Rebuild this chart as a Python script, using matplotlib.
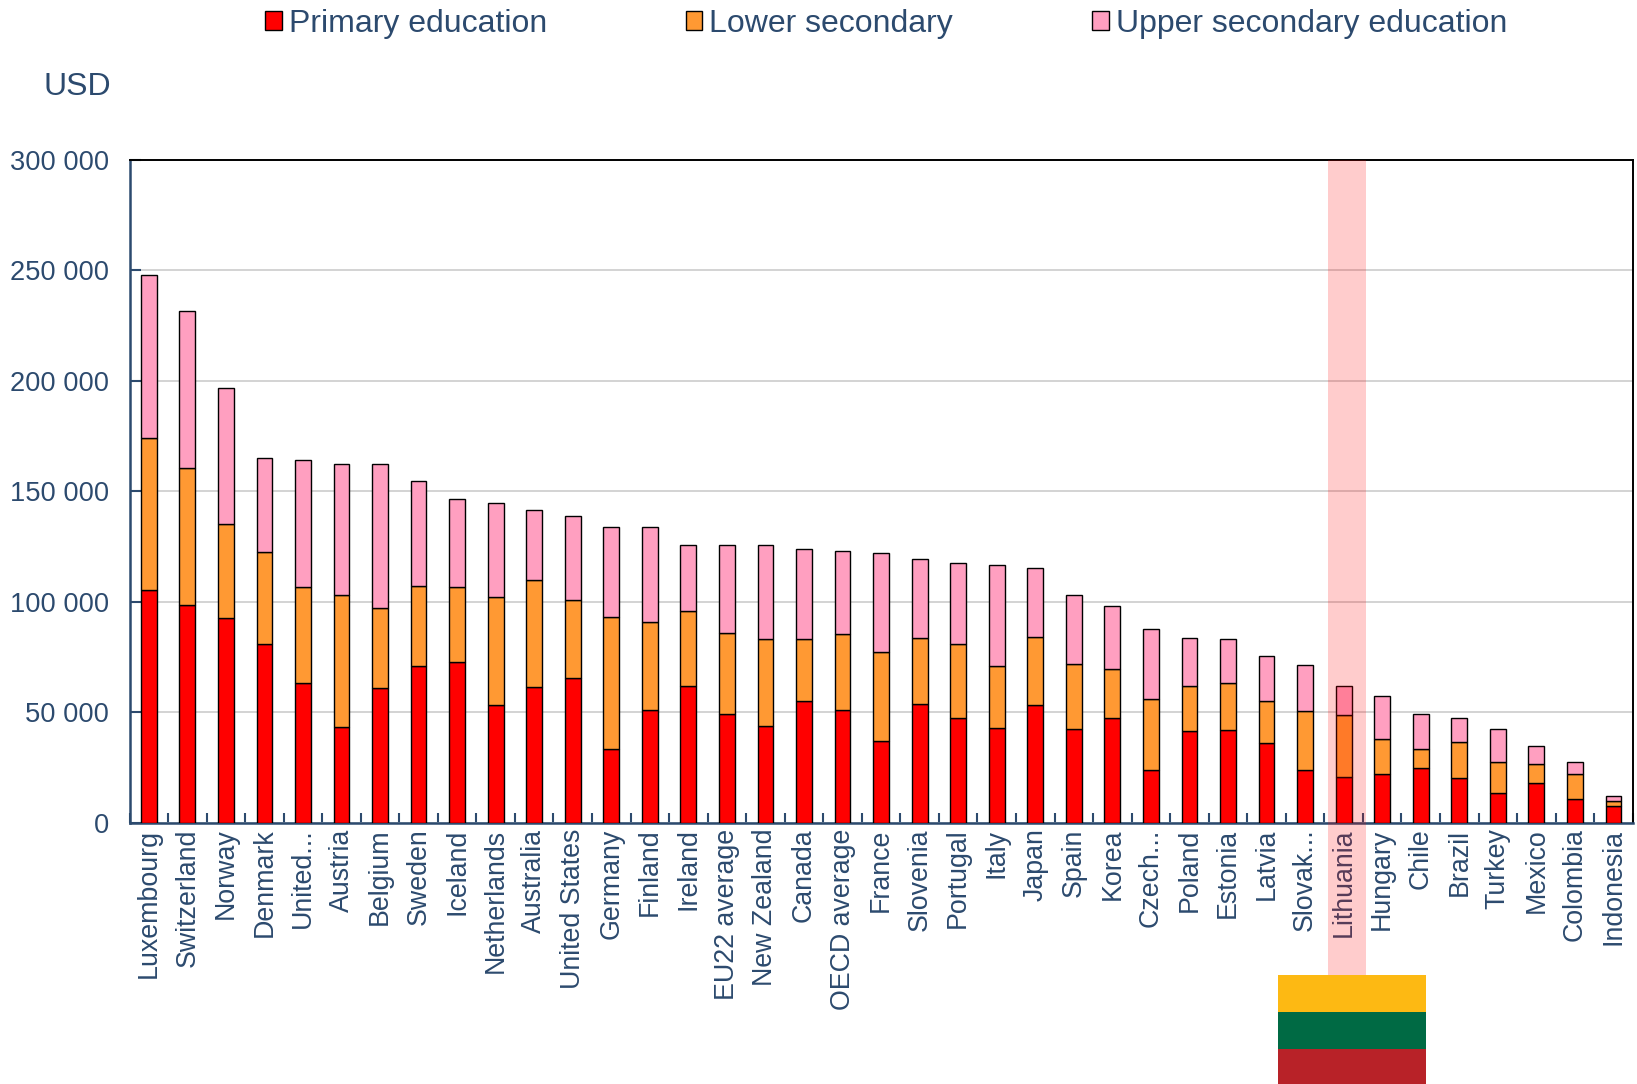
import matplotlib
matplotlib.use("Agg")
import matplotlib.pyplot as plt
from matplotlib.patches import Patch, Rectangle
import numpy as np

countries = ["Luxembourg", "Switzerland", "Norway", "Denmark", "United...", "Austria", "Belgium",
             "Sweden", "Iceland", "Netherlands", "Australia", "United States", "Germany", "Finland",
             "Ireland", "EU22 average", "New Zealand", "Canada", "OECD average", "France", "Slovenia",
             "Portugal", "Italy", "Japan", "Spain", "Korea", "Czech...", "Poland", "Estonia", "Latvia",
             "Slovak...", "Lithuania", "Hungary", "Chile", "Brazil", "Turkey", "Mexico", "Colombia",
             "Indonesia"]

primary = [105500, 98500, 92500, 81000, 63500, 43500, 61000, 71000, 73000, 53500, 61500, 65500, 33500,
           51000, 62000, 49500, 44000, 55000, 51000, 37000, 54000, 47500, 43000, 53500, 42500, 47500,
           24000, 41500, 42000, 36000, 24000, 21000, 22000, 25000, 20500, 13500, 18000, 11000, 7500]
lower = [68500, 62000, 42500, 41500, 43000, 59500, 36000, 36000, 33500, 48500, 48500, 35500, 59500,
         40000, 34000, 36500, 39000, 28000, 34500, 40500, 29500, 33500, 28000, 30500, 29500, 22000,
         32000, 20500, 21500, 19000, 26500, 28000, 16000, 8500, 16000, 14000, 8500, 11000, 2500]
upper = [74000, 71000, 61500, 42500, 57500, 59500, 65500, 47500, 40000, 42500, 31500, 38000, 41000,
         43000, 29500, 39500, 42500, 41000, 37500, 44500, 36000, 36500, 45500, 31500, 31000, 28500,
         31500, 21500, 19500, 20500, 21000, 13000, 19500, 16000, 11000, 15000, 8500, 5500, 2000]
yticks = [0, 50000, 100000, 150000, 200000, 250000, 300000]

NAVY = "#2c4a6e"
W, H = 1637, 1084

plt.rcParams["font.family"] = ["Liberation Sans", "DejaVu Sans"]

fig = plt.figure(figsize=(W / 100, H / 100), dpi=100)
ax = fig.add_axes([129.5 / W, 1 - 823 / H, (1632.7 - 129.5) / W, (823 - 159.5) / H])

x = np.arange(len(countries))
bottom = np.zeros(len(countries))
series = [(primary, "#ff0000", "Primary education"),
          (lower, "#ff9933", "Lower secondary"),
          (upper, "#ff9fc0", "Upper secondary education")]
for vals, color, label in series:
    ax.bar(x, vals, width=0.41, bottom=bottom, color=color, edgecolor="black", linewidth=1, zorder=3)
    bottom += np.array(vals)

ax.set_xlim(-0.5, len(countries) - 0.5)
ax.set_ylim(0, 300000)
ax.set_axisbelow(True)
ax.grid(axis="y", color="#cccccc", linewidth=1.2)

ax.set_yticks(yticks)
ax.set_yticklabels([f"{v:,}".replace(",", " ") for v in yticks], fontsize=19.6, color=NAVY)
ax.tick_params(axis="y", direction="in", length=8, width=1.5, color=NAVY, pad=15)
ax.set_xticks(x)
ax.set_xticklabels(countries, rotation=90, fontsize=19.3, color=NAVY)
ax.tick_params(axis="x", which="major", length=0, pad=4)
ax.set_xticks(np.arange(len(countries) + 1) - 0.5, minor=True)
ax.tick_params(axis="x", which="minor", direction="in", length=7, width=1.5, color=NAVY)

ax.spines["left"].set(color=NAVY, linewidth=1.8)
ax.spines["bottom"].set(color=NAVY, linewidth=1.8)
ax.spines["top"].set(color="black", linewidth=1.4)
ax.spines["right"].set(color="black", linewidth=1.4)

handles = [Patch(facecolor=c, edgecolor="black", linewidth=1, label=l) for _, c, l in series]
fig.legend(handles=handles, ncol=3, loc="center", bbox_to_anchor=(886 / W, 1 - 24 / H), frameon=False,
           fontsize=23, labelcolor=NAVY, handlelength=0.52, handleheight=0.52, handletextpad=0.22,
           columnspacing=4.35, borderpad=0, borderaxespad=0)

fig.text(43 / W, 1 - 87 / H, "USD", fontsize=23, color=NAVY, ha="left", va="center")

# Lithuania highlight band and flag sit on top of the axes
fig.add_artist(Rectangle((1328 / W, 1 - 975 / H), 38 / W, (975 - 159.5) / H, transform=fig.transFigure,
                         facecolor="#ff0000", alpha=0.2, edgecolor="none", zorder=5))
flag_edges = [975, 1012, 1049, 1083.5]
flag_colors = ["#fdb913", "#006a44", "#b82228"]
for top, bot, color in zip(flag_edges[:-1], flag_edges[1:], flag_colors):
    fig.add_artist(Rectangle((1278 / W, 1 - bot / H), 148 / W, (bot - top) / H, transform=fig.transFigure,
                             facecolor=color, edgecolor="none", zorder=6))

fig.savefig("out.png", dpi=100)
plt.close(fig)
